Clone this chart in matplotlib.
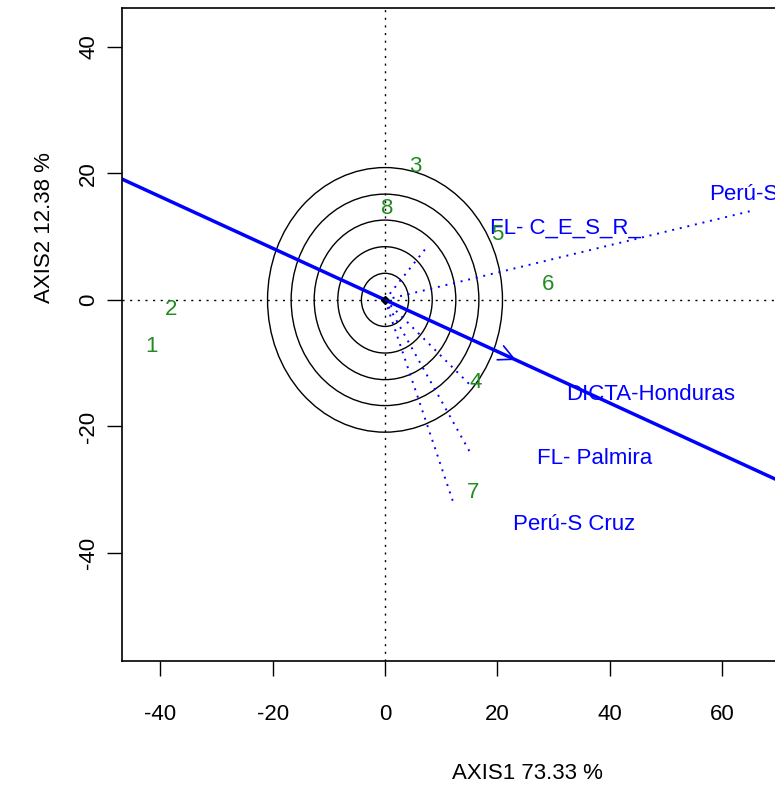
import matplotlib
matplotlib.use("Agg")
import matplotlib.pyplot as plt
from matplotlib.patches import Circle

plt.rcParams['font.family'] = ['Liberation Sans', 'DejaVu Sans']
plt.rcParams['axes.unicode_minus'] = False

# genotypes (green labels)
gen_labels = ['1', '2', '3', '4', '5', '6', '7', '8']
gen_x = [-41.5, -38.1, 5.3, 16.2, 19.9, 29.0, 15.6, 0.3]
gen_y = [-7.4, -1.6, 21.0, -13.1, 10.4, 2.4, -30.5, 14.5]

# environments: vector end points and label positions (left edge of text)
env_labels = ['FL- C_E_S_R_', 'Perú-S', 'DICTA-Honduras', 'FL- Palmira', 'Perú-S Cruz']
env_x = [7.5, 65.4, 15.1, 15.2, 12.3]
env_y = [8.4, 14.1, -13.4, -24.2, -32.4]
lab_x = [18.7, 57.6, 32.2, 27.0, 22.8]
lab_y = [11.4, 16.6, -15.0, -25.1, -35.5]

# average environment coordinate and concentric circles
mean_env = (23.3, -9.5)
radii = [4.2, 8.4, 12.6, 16.7, 20.9]

xticks = [-40, -20, 0, 20, 40, 60]
yticks = [-40, -20, 0, 20, 40]

fig = plt.figure(figsize=(7.75, 7.86), dpi=100)
ax = fig.add_axes([0.1574, 0.1586, 1.045, 0.8312])
ax.set_xlim(-46.8, 97.3)
ax.set_ylim(-57.1, 46.1)

# reference axes through origin
ax.axhline(0, color='black', lw=1, ls=(0, (1.5, 4)))
ax.axvline(0, color='black', lw=1, ls=(0, (1.5, 4)))

for r in radii:
    ax.add_patch(Circle((0, 0), r, fill=False, ec='black', lw=1))

# environment vectors
for ex, ey in zip(env_x, env_y):
    ax.plot([0, ex], [0, ey], color='blue', lw=1.4, ls=(0, (1, 3)))

# average environment axis and arrow
ax.axline((0, 0), mean_env, color='blue', lw=2.5)
ax.annotate('', xy=mean_env, xytext=(0, 0),
            arrowprops=dict(arrowstyle='->,head_length=1.0,head_width=0.5',
                            color='blue', lw=1.2, mutation_scale=11,
                            shrinkA=0, shrinkB=0))
ax.plot([0], [0], marker='D', color='black', ms=4)

for lab, x, y in zip(env_labels, lab_x, lab_y):
    ax.text(x, y, lab, color='blue', fontsize=16, ha='left', va='center')

for lab, x, y in zip(gen_labels, gen_x, gen_y):
    ax.text(x, y, lab, color='forestgreen', fontsize=16, ha='center', va='center')

ax.set_xticks(xticks)
ax.set_yticks(yticks)
ax.set_yticklabels([str(t) for t in yticks], rotation=90, va='center')
ax.tick_params(axis='both', direction='out', length=10.5, width=1, labelsize=16)
ax.tick_params(axis='x', pad=20)
ax.tick_params(axis='y', pad=6)
for s in ax.spines.values():
    s.set_linewidth(1.2)

fig.text(0.680, 0.0165, 'AXIS1 73.33 %', fontsize=16, ha='center', va='center')
fig.text(0.058, 0.710, 'AXIS2 12.38 %', fontsize=16, ha='center', va='center', rotation=90)

fig.savefig('out.png', dpi=100)
